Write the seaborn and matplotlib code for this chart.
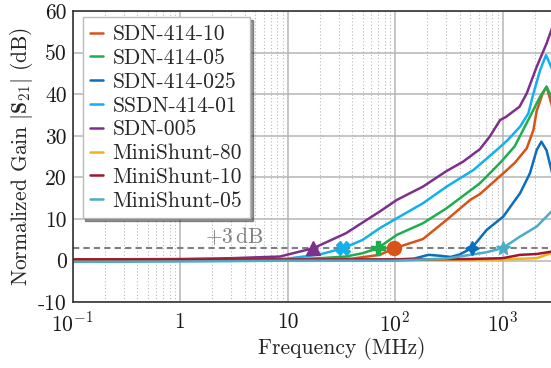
import numpy as np
import pandas as pd
import matplotlib
matplotlib.use("Agg")
import matplotlib.pyplot as plt
import matplotlib.ticker as mticker
import seaborn as sns

# ---------------- data ----------------
series_names = ["SDN-414-10", "SDN-414-05", "SDN-414-025", "SSDN-414-01",
                "SDN-005", "MiniShunt-80", "MiniShunt-10", "MiniShunt-05"]
series_colors = ["#D95319", "#1DAF4E", "#0A6EBD", "#12B0EE",
                 "#7E2F8E", "#F2B30F", "#A2142F", "#4BACC6"]

f_sdn414_10 = [0.1, 1, 10, 40, 72, 99, 150, 182, 302, 500, 616, 1017, 1300, 1680, 1940, 2080, 2350, 2570, 2900]
g_sdn414_10 = [0.3, 0.3, 0.3, 0.5, 1.4, 3.0, 4.5, 5.2, 9.8, 14.6, 16.0, 21.0, 23.5, 27.0, 31.4, 36.0, 40.0, 41.8, 37.0]

f_sdn414_05 = [0.1, 1, 10, 20, 35, 50, 69, 104, 182, 302, 616, 950, 1300, 1800, 2235, 2570, 2900]
g_sdn414_05 = [0.2, 0.2, 0.3, 0.6, 1.0, 1.8, 3.0, 6.2, 9.0, 12.6, 18.6, 23.5, 27.5, 34.6, 39.4, 41.8, 39.0]

f_sdn414_025 = [0.1, 1, 10, 50, 100, 150, 205, 257, 330, 400, 516, 713, 1017, 1456, 1800, 2080, 2300, 2570, 2900]
g_sdn414_025 = [0.1, 0.1, 0.2, 0.2, 0.3, 0.5, 1.4, 1.2, 0.9, 1.5, 3.0, 7.4, 10.6, 16.2, 21.0, 26.6, 28.6, 26.5, 21.0]

f_ssdn414_01 = [0.1, 1, 5, 10, 20, 33, 50, 72, 104, 182, 302, 537, 883, 1120, 1456, 1740, 1940, 2240, 2540, 2900]
g_ssdn414_01 = [0.1, 0.2, 0.3, 0.5, 1.5, 3.0, 5.0, 7.8, 10.2, 13.8, 17.8, 21.8, 26.6, 29.0, 32.2, 35.4, 40.2, 45.8, 49.4, 46.0]

f_sdn005 = [0.1, 1, 3, 8.5, 17.4, 35, 72, 104, 182, 300, 430, 616, 760, 950, 1070, 1440, 1680, 2080, 2570, 2900]
g_sdn005 = [0.3, 0.4, 0.6, 1.0, 3.0, 6.6, 11.8, 14.6, 17.8, 21.5, 23.8, 26.8, 29.8, 33.8, 34.5, 37.0, 40.2, 46.6, 52.2, 56.0]

f_minishunt80 = [0.1, 1, 10, 100, 1000, 2080, 2900]
g_minishunt80 = [0.2, 0.2, 0.2, 0.2, 0.3, 0.6, 1.9]

f_minishunt10 = [0.1, 1, 10, 100, 500, 1000, 1456, 2080, 2900]
g_minishunt10 = [0.3, 0.3, 0.3, 0.3, 0.4, 0.6, 1.4, 1.6, 2.2]

f_minishunt05 = [0.1, 1, 10, 100, 300, 500, 700, 1000, 1456, 2080, 2900]
g_minishunt05 = [-0.3, -0.2, 0.0, 0.0, 0.5, 1.4, 2.0, 3.0, 5.8, 8.2, 12.0]

# +3 dB crossing markers
marker_names = ["SDN-414-10", "SDN-414-05", "SDN-414-025", "SSDN-414-01", "SDN-005", "MiniShunt-05"]
marker_freqs = [98.7, 69, 516, 33, 17.4, 1000]
marker_gain = 3.0
marker_styles = ["o", "P", (4, 1, 0), "X", "^", "*"]

threshold_db = 3.0
threshold_label = "+3$\\,$dB"
x_ticks = [0.1, 1, 10, 100, 1000]
x_ticklabels = ["$10^{\\mathrm{-}1}$", "1", "10", "$10^{2}$", "$10^{3}$"]
y_ticks = [-10, 0, 10, 20, 30, 40, 50, 60]
y_ticklabels = ["-10", "0", "10", "20", "30", "40", "50", "60"]

freq_lists = [f_sdn414_10, f_sdn414_05, f_sdn414_025, f_ssdn414_01,
              f_sdn005, f_minishunt80, f_minishunt10, f_minishunt05]
gain_lists = [g_sdn414_10, g_sdn414_05, g_sdn414_025, g_ssdn414_01,
              g_sdn005, g_minishunt80, g_minishunt10, g_minishunt05]

rows = []
for name, fs, gs in zip(series_names, freq_lists, gain_lists):
    for fv, gv in zip(fs, gs):
        rows.append({"series": name, "freq": fv, "gain": gv})
df = pd.DataFrame(rows)

# ---------------- style ----------------
sns.set_theme(style="white")
plt.rcParams["font.family"] = ["cmr10", "DejaVu Serif"]
plt.rcParams["mathtext.fontset"] = "cm"
plt.rcParams["axes.formatter.use_mathtext"] = True
plt.rcParams["axes.unicode_minus"] = False
FS = 15.5

fig = plt.figure(figsize=(5.51, 3.68), dpi=100)
ax_w_px = 5 * 107.5
ax_h_px = 302.3 - 11
ax = fig.add_axes([72.5 / 551, (368 - 302.3) / 368, ax_w_px / 551, ax_h_px / 368])

palette = dict(zip(series_names, series_colors))
sns.lineplot(data=df, x="freq", y="gain", hue="series", hue_order=series_names,
             palette=palette, linewidth=1.8, ax=ax, sort=False, estimator=None)

ax.set_xscale("log")
ax.set_xlim(0.1, 1e4)
ax.set_ylim(-10, 60)

# threshold line
ax.axhline(threshold_db, color="#7f7f7f", linestyle=(0, (3, 2)), linewidth=1.5, zorder=1.5)
ax.text(3.2, 5.8, threshold_label, color="#7f7f7f", fontsize=FS, ha="center", va="center")

# markers
for name, fv, ms in zip(marker_names, marker_freqs, marker_styles):
    ax.plot([fv], [marker_gain], marker=ms, color=palette[name], markersize=10,
            linestyle="none", zorder=5)

# grid
ax.xaxis.set_minor_locator(mticker.LogLocator(base=10, subs=np.arange(2, 10)))
ax.xaxis.set_minor_formatter(mticker.NullFormatter())
ax.grid(True, which="major", color="#b5b5b5", linewidth=1.1, linestyle="-")
ax.grid(True, which="minor", axis="x", color="#b8b8b8", linewidth=0.8, linestyle=(0, (1, 2)))
ax.set_axisbelow(True)

ax.set_xticks(x_ticks)
ax.set_xticklabels(x_ticklabels)
ax.set_yticks(y_ticks)
ax.set_yticklabels(y_ticklabels)
ax.tick_params(axis="both", which="both", length=0, labelsize=FS, colors="#1a1a1a")
ax.tick_params(axis="x", pad=7)
ax.tick_params(axis="y", pad=4)

for s in ax.spines.values():
    s.set_color("#333333")
    s.set_linewidth(1.2)

ax.set_xlabel("Frequency (MHz)", fontsize=FS, labelpad=1)
ax.set_ylabel("Normalized Gain $|\\mathbf{S}_{21}|$ (dB)", fontsize=FS, labelpad=2)

leg = ax.legend(loc="upper left", bbox_to_anchor=(10 / ax_w_px, 1 - 6 / ax_h_px),
                borderaxespad=0, fontsize=FS,
                frameon=True, shadow={"shade": 0.8, "alpha": 0.5}, fancybox=False,
                handlelength=0.6, handletextpad=0.45, labelspacing=0.2, borderpad=0.35,
                edgecolor="#bbbbbb", framealpha=1)
for line in leg.get_lines():
    line.set_linewidth(1.8)

fig.savefig("out.png", dpi=100)
